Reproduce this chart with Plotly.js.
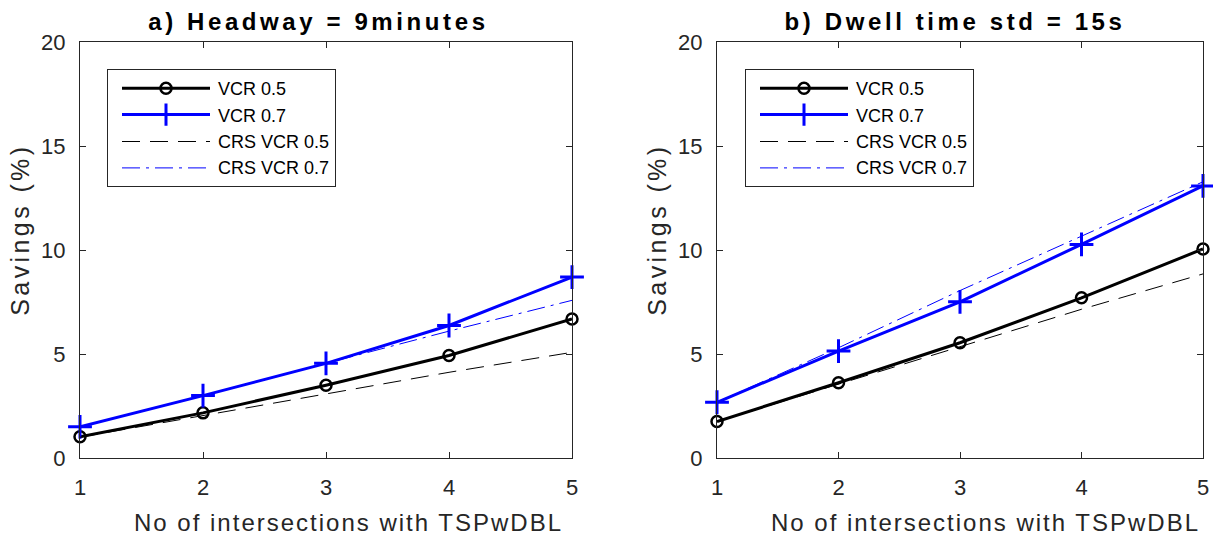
<!DOCTYPE html>
<html>
<head>
<meta charset="utf-8">
<script src="https://cdn.plot.ly/plotly-3.0.1.min.js"></script>
<style>html,body{margin:0;padding:0;background:#fff;}#chart{width:1213px;height:537px;}</style>
</head>
<body>
<div id="chart"></div>
<script>
// ---- data ----
const intersections = [1, 2, 3, 4, 5];
const seriesNames = ["VCR 0.5", "VCR 0.7", "CRS VCR 0.5", "CRS VCR 0.7"];

// a) Headway = 9 minutes
const headway_vcr05 = [1.02, 2.17, 3.50, 4.93, 6.68];
const headway_vcr07 = [1.50, 3.00, 4.55, 6.37, 8.70];
const headway_crs05 = [1.00, 2.05, 3.08, 4.12, 5.08];
const headway_crs07 = [1.50, 3.00, 4.55, 6.10, 7.58];

// b) Dwell time std = 15s
const dwell_vcr05 = [1.75, 3.62, 5.54, 7.70, 10.05];
const dwell_vcr07 = [2.68, 5.14, 7.51, 10.27, 13.08];
const dwell_crs05 = [1.75, 3.55, 5.32, 7.15, 8.85];
const dwell_crs07 = [2.68, 5.30, 8.05, 10.67, 13.28];

const titles = ["a) Headway = 9minutes", "b) Dwell time std = 15s"];
const xTitle = "No of intersections with TSPwDBL";
const yTitle = "Savings (%)";

// ---- styles ----
const FONT = "Liberation Sans, Arial, sans-serif";
const colors = ["#000000", "#0000FF", "#000000", "#0000FF"];
const styles = [
  {mode: "lines+markers", line: {color: colors[0], width: 3},
   marker: {symbol: "circle-open", size: 11, color: colors[0], line: {width: 2.5, color: colors[0]}}},
  {mode: "lines+markers", line: {color: colors[1], width: 3},
   marker: {symbol: "cross-thin-open", size: 17, color: colors[1], line: {width: 3, color: colors[1]}}},
  {mode: "lines", line: {color: colors[2], width: 1, dash: "18px,10px"}},
  {mode: "lines", line: {color: colors[3], width: 1, dash: "18px,6px,3px,6px"}}
];

function mk(y, i, xa, ya, leg) {
  return Object.assign({x: intersections, y: y, name: seriesNames[i], xaxis: xa, yaxis: ya,
    legend: leg, showlegend: true, cliponaxis: false}, JSON.parse(JSON.stringify(styles[i])));
}

const traces = [
  mk(headway_vcr05, 0, "x", "y", "legend"),
  mk(headway_vcr07, 1, "x", "y", "legend"),
  mk(headway_crs05, 2, "x", "y", "legend"),
  mk(headway_crs07, 3, "x", "y", "legend"),
  mk(dwell_vcr05, 0, "x2", "y2", "legend2"),
  mk(dwell_vcr07, 1, "x2", "y2", "legend2"),
  mk(dwell_crs05, 2, "x2", "y2", "legend2"),
  mk(dwell_crs07, 3, "x2", "y2", "legend2")
];

const W = 1213, H = 537;
const yDom = [(H - 458) / H, (H - 42) / H];
const xDom1 = [80 / W, 572 / W];
const xDom2 = [717 / W, 1203 / W];

function xaxis(dom, anchor) {
  return {domain: dom, anchor: anchor, range: [1, 5], tickvals: intersections, ticktext: intersections.map(String),
    ticks: "inside", ticklen: 6, tickwidth: 1, tickcolor: "#262626", showline: true, linecolor: "#262626",
    linewidth: 1, mirror: "ticks", showgrid: false, zeroline: false, ticklabelstandoff: 10,
    tickfont: {family: FONT, size: 22, color: "#262626"}};
}
function yaxis(anchor) {
  return {domain: yDom, anchor: anchor, range: [0, 20], dtick: 5, tick0: 0,
    ticks: "inside", ticklen: 6, tickwidth: 1, tickcolor: "#262626", showline: true, linecolor: "#262626",
    linewidth: 1, mirror: "ticks", showgrid: false, zeroline: false, ticklabelstandoff: 9,
    tickfont: {family: FONT, size: 22, color: "#262626"}};
}
function legend(x) {
  return {x: x, y: (H - 69) / H, xanchor: "left", yanchor: "top", bgcolor: "#ffffff",
    bordercolor: "#262626", borderwidth: 1, font: {family: FONT, size: 18, color: "#000000"},
    tracegroupgap: 0, itemwidth: 100};
}

// annotation positions (centres, px) for titles and axis titles
const annotations = [];
const spacing = [];
const titleCentres = [318, 955];
const xTitleCentres = [348, 985];
const yTitleCentres = [20, 657];
titleCentres.forEach(function (cx, k) {
  annotations.push({text: "<b>" + titles[k] + "</b>", xref: "paper", yref: "paper", x: cx / W, y: (H - 22) / H,
    xanchor: "center", yanchor: "middle", showarrow: false, font: {family: FONT, size: 24, color: "#000000"}});
  spacing.push("3.6px");
});
xTitleCentres.forEach(function (cx) {
  annotations.push({text: xTitle, xref: "paper", yref: "paper", x: cx / W, y: (H - 522) / H,
    xanchor: "center", yanchor: "middle", showarrow: false, font: {family: FONT, size: 24, color: "#262626"}});
  spacing.push("2px");
});
yTitleCentres.forEach(function (cx) {
  annotations.push({text: yTitle, xref: "paper", yref: "paper", x: cx / W, y: (H - 230) / H,
    xanchor: "center", yanchor: "middle", textangle: -90, showarrow: false,
    font: {family: FONT, size: 25, color: "#262626"}});
  spacing.push("3.4px");
});

const layout = {
  width: W, height: H, margin: {l: 0, r: 0, t: 0, b: 0},
  paper_bgcolor: "#ffffff", plot_bgcolor: "#ffffff",
  font: {family: FONT},
  xaxis: xaxis(xDom1, "y"), yaxis: yaxis("x"),
  xaxis2: xaxis(xDom2, "y2"), yaxis2: yaxis("x2"),
  legend: legend(107 / W), legend2: legend(745 / W),
  annotations: annotations
};

Plotly.newPlot("chart", traces, layout, {displayModeBar: false, staticPlot: true}).then(function (gd) {
  // lengthen legend line samples like the original figure's legend, keeping thin lines crisp
  gd.querySelectorAll(".legendlines path").forEach(function (p) {
    const w = parseFloat(p.style.strokeWidth || p.getAttribute("stroke-width") || "1");
    p.setAttribute("d", w < 2 ? "M14,0.5h88" : "M14,0h88");
  });
  gd.querySelectorAll(".legendsymbols g.legendpoints path, .legendsymbols path.scatterpts").forEach(function (p) {
    p.setAttribute("transform", "translate(58,0)");
  });
  // wide MATLAB-style letter spacing on the titles
  gd.querySelectorAll(".annotation-text").forEach(function (t, i) {
    if (spacing[i]) t.style.letterSpacing = spacing[i];
  });
});
</script>
</body>
</html>
